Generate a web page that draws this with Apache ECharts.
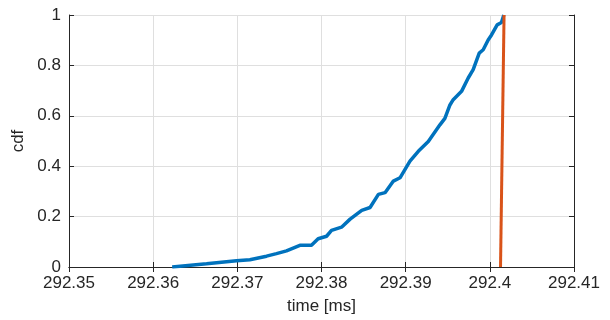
<!DOCTYPE html>
<html><head><meta charset="utf-8">
<script src="https://cdn.jsdelivr.net/npm/echarts@6/dist/echarts.min.js"></script>
<style>html,body{margin:0;padding:0;background:#fff}#c{width:610px;height:320px}</style>
</head><body><div id="c"></div>
<script>
var xTicks = [292.35, 292.36, 292.37, 292.38, 292.39, 292.40, 292.41];
var yTicks = [0, 0.2, 0.4, 0.6, 0.8, 1];
var blueX = [292.36226, 292.36634, 292.3699, 292.37149, 292.37347, 292.37465, 292.37584, 292.37743, 292.37881, 292.3796, 292.3806, 292.38119, 292.38238, 292.3834, 292.38478, 292.38577, 292.38676, 292.38755, 292.38854, 292.38933, 292.39051, 292.3915, 292.39269, 292.39407, 292.39466, 292.39526, 292.39565, 292.39664, 292.39743, 292.39802, 292.39874, 292.39921, 292.3998, 292.4002, 292.40087, 292.40138, 292.40166];
var blueY = [0, 0.013, 0.025, 0.029, 0.043, 0.053, 0.064, 0.086, 0.086, 0.112, 0.122, 0.145, 0.158, 0.19, 0.225, 0.236, 0.288, 0.295, 0.341, 0.354, 0.42, 0.459, 0.498, 0.564, 0.59, 0.643, 0.664, 0.697, 0.75, 0.783, 0.849, 0.862, 0.901, 0.921, 0.961, 0.97, 1.0];
var orangeX = [292.40127, 292.40169];
var orangeY = [0, 1];

function zip(a, b) { return a.map(function (v, i) { return [v, b[i]]; }); }
var font = '"Liberation Sans", Arial, Helvetica, sans-serif';
var axCol = '#262626';
var chart = echarts.init(document.getElementById('c'), null, {renderer: 'canvas'});
var xmin = xTicks[0], xmax = xTicks[xTicks.length - 1];
function xfmt(v) { return String(Math.round(v * 100) / 100); }
chart.setOption({
  animation: false,
  grid: {left: 69, right: 36, top: 15, bottom: 52},
  xAxis: [{
    type: 'value', min: xmin, max: xmax, interval: 0.01,
    name: 'time [ms]', nameLocation: 'middle', nameGap: 31,
    nameTextStyle: {color: axCol, fontFamily: font, fontSize: 17},
    axisLine: {lineStyle: {color: axCol, width: 1}},
    axisTick: {inside: true, length: 5, lineStyle: {color: axCol}},
    axisLabel: {color: axCol, fontFamily: font, fontSize: 17, margin: 8, formatter: xfmt},
    splitLine: {show: true, lineStyle: {color: '#dfdfdf', width: 1}}
  }, {
    type: 'value', position: 'top', min: xmin, max: xmax, interval: 0.01,
    axisLine: {show: true, lineStyle: {color: axCol, width: 1}},
    axisTick: {inside: true, length: 5, lineStyle: {color: axCol}},
    axisLabel: {show: false}, splitLine: {show: false}
  }],
  yAxis: [{
    type: 'value', min: 0, max: 1, interval: 0.2,
    name: 'cdf', nameLocation: 'middle', nameGap: 35,
    nameTextStyle: {color: axCol, fontFamily: font, fontSize: 17},
    axisLine: {show: true, lineStyle: {color: axCol, width: 1}},
    axisTick: {show: true, inside: true, length: 5, lineStyle: {color: axCol}},
    axisLabel: {color: axCol, fontFamily: font, fontSize: 17, margin: 8, formatter: function (v) { return String(Math.round(v * 10) / 10); }},
    splitLine: {show: true, lineStyle: {color: '#dfdfdf', width: 1}}
  }, {
    type: 'value', position: 'right', min: 0, max: 1, interval: 0.2,
    axisLine: {show: true, lineStyle: {color: axCol, width: 1}},
    axisTick: {show: true, inside: true, length: 5, lineStyle: {color: axCol}},
    axisLabel: {show: false}, splitLine: {show: false}
  }],
  series: [{
    type: 'line', data: zip(blueX, blueY), showSymbol: false, symbol: 'none',
    lineStyle: {color: '#0072BD', width: 3.5}, z: 3
  }, {
    type: 'line', data: zip(orangeX, orangeY), showSymbol: false, symbol: 'none',
    lineStyle: {color: '#D95319', width: 3}, z: 4
  }]
});
</script></body></html>
